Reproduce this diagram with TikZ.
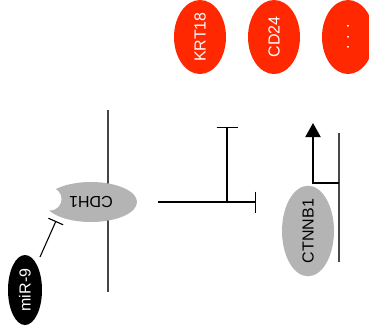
\documentclass[tikz,border=0pt]{standalone}
\usepackage{fontspec}
\setmainfont{Liberation Sans}
\usetikzlibrary{arrows.meta,shapes.geometric}
\definecolor{gened}{RGB}{255,40,0}
\definecolor{protgray}{RGB}{180,180,180}
\definecolor{memb}{RGB}{70,70,70}
\tikzset{
  lbl/.style={font=\fontsize{16}{17}\selectfont},
  redgene/.style={ellipse,fill=gened,text=white,inner sep=0pt,lbl,rotate=90,minimum width=74pt,minimum height=52pt},
  prot/.style={ellipse,fill=protgray,text=black,inner sep=0pt,lbl},
  mirna/.style={ellipse,fill=black,text=white,inner sep=0pt,lbl},
  membrane/.style={draw=memb,line width=1.1pt},
  inhib/.style={draw=black,line width=1.1pt},
}
\begin{document}
\begin{tikzpicture}[x=1pt,y=-1pt]
\useasboundingbox (0,0) rectangle (369,333);
\clip (0,0) rectangle (369,333);
% top genes
\node[redgene] (krt) at (200,37) {KRT18};
\node[redgene] (cd) at (274,37) {CD24};
\node[redgene] (dots) at (348,37) {. . .};
% membrane lines
\coordinate (m1t) at (108,110);
\coordinate (m1b) at (108,292);
\draw[membrane] (m1t) -- (m1b);
\coordinate (m2t) at (339,133);
\coordinate (m2b) at (339,262);
\draw[membrane] (m2t) -- (m2b);
% CDH1
\node[prot,minimum width=92pt,minimum height=40pt,rotate=180] (cdh) at (91,202) {CDH1};
\fill[white] (50,199) circle (11.5);
% miR-9
\node[mirna,rotate=90,minimum width=70pt,minimum height=34pt] (mir) at (25,290) {miR-9};
\coordinate (mirst) at (40,257);
\coordinate (mirend) at (56,221);
\draw[inhib,-{Bar[width=16pt,line width=1.1pt]}] (mirst) -- (mirend);
% inhibition lines
\coordinate (hs) at (158,202);
\coordinate (he) at (256,202);
\coordinate (vj) at (227,202);
\coordinate (ve) at (227,127);
\draw[inhib,-{Bar[width=21pt,line width=1.1pt]}] (hs) -- (he);
\draw[inhib,-{Bar[width=21pt,line width=1.1pt]}] (vj) -- (ve);
% CTNNB1
\node[prot,rotate=90,minimum width=75pt,minimum height=52pt] (ctn) at (308,231) {CTNNB1};
% promoter arrow
\coordinate (ps) at (339,183);
\coordinate (pe) at (313,123);
\draw[black,line width=2pt,-{Triangle[width=15pt,length=14pt]}] (ps) -| (pe);
\end{tikzpicture}
\end{document}
